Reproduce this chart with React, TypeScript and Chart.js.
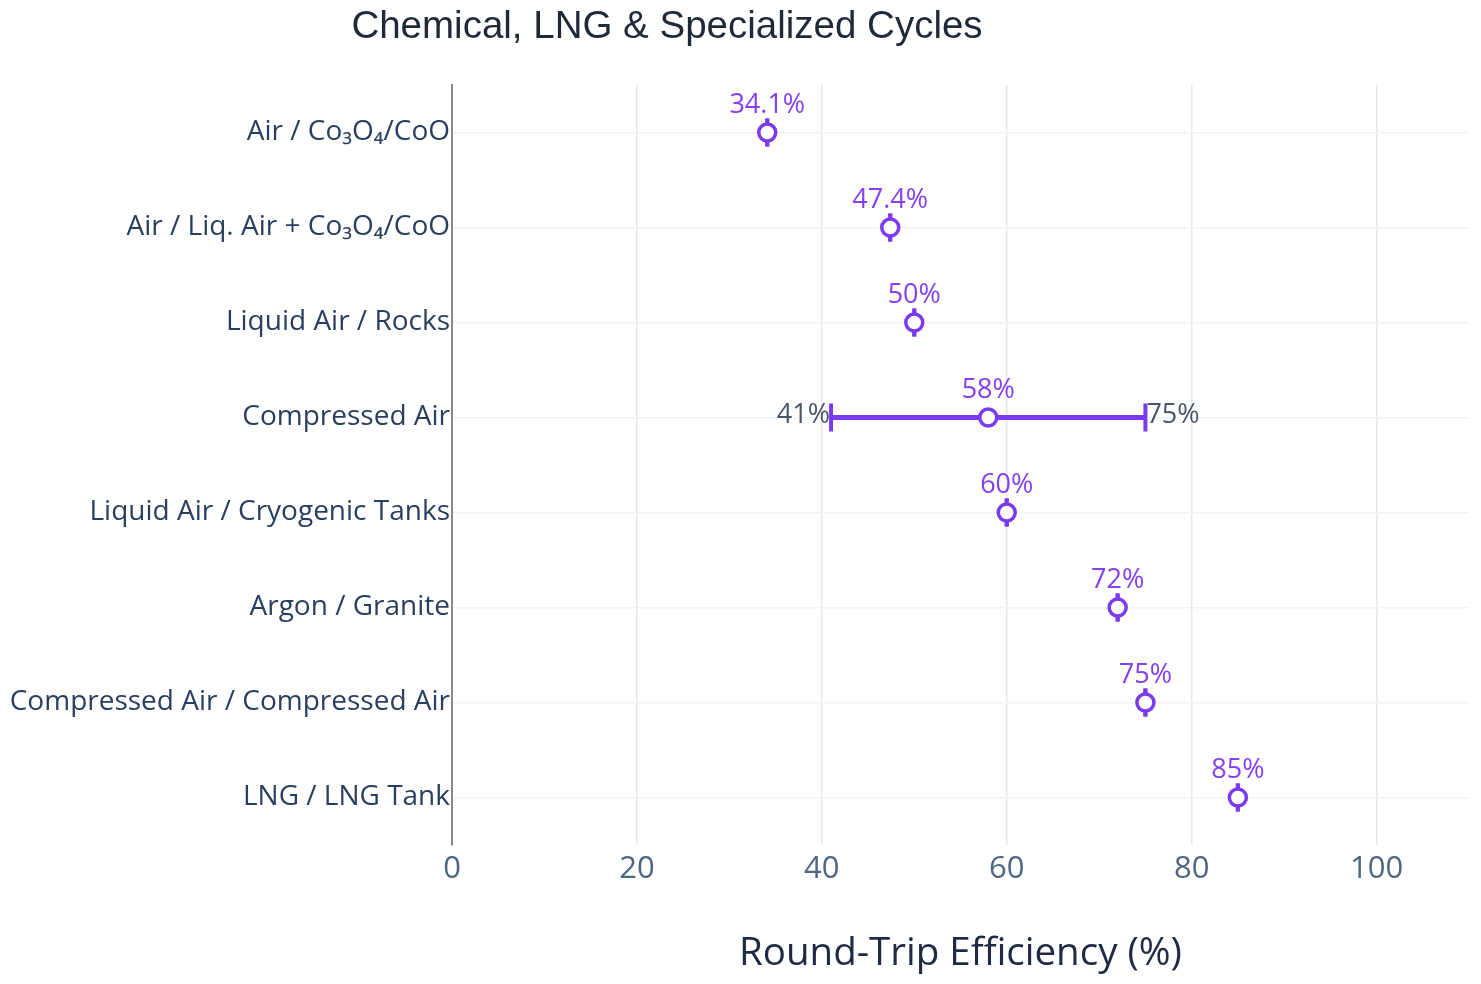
import React, { useEffect, useRef } from "react";
import { Chart, registerables } from "chart.js";

Chart.register(...registerables);

const categories = [
  "Air / Co₃O₄/CoO",
  "Air / Liq. Air + Co₃O₄/CoO",
  "Liquid Air / Rocks",
  "Compressed Air",
  "Liquid Air / Cryogenic Tanks",
  "Argon / Granite",
  "Compressed Air / Compressed Air",
  "LNG / LNG Tank",
];
const efficiency = [34.1, 47.4, 50, 58, 60, 72, 75, 85];
const rangeLow = [34.1, 47.4, 50, 41, 60, 72, 75, 85];
const rangeHigh = [34.1, 47.4, 50, 75, 60, 72, 75, 85];
const xTicks = [0, 20, 40, 60, 80, 100];

const PURPLE = "#7c3aed";
const FONT = "'Open Sans', 'Noto Sans', sans-serif";

// error bars under the markers, value labels on top
const errorBarPlugin = {
  id: "errorBars",
  beforeDatasetsDraw(chart: any) {
    const { ctx, scales } = chart;
    const { x, y } = scales;
    ctx.save();
    ctx.strokeStyle = PURPLE;
    categories.forEach((_, i) => {
      const py = y.getPixelForValue(i);
      const lo = x.getPixelForValue(rangeLow[i]);
      const hi = x.getPixelForValue(rangeHigh[i]);
      if (hi > lo) {
        ctx.lineWidth = 5;
        ctx.beginPath();
        ctx.moveTo(lo, py);
        ctx.lineTo(hi, py);
        ctx.stroke();
      }
      ctx.lineWidth = 4;
      [lo, hi].forEach((px) => {
        ctx.beginPath();
        ctx.moveTo(px, py - 14);
        ctx.lineTo(px, py + 14);
        ctx.stroke();
      });
    });
    ctx.restore();
  },
  afterDatasetsDraw(chart: any) {
    const { ctx, scales } = chart;
    const { x, y } = scales;
    ctx.save();
    ctx.font = `27px ${FONT}`;
    ctx.textBaseline = "middle";
    categories.forEach((_, i) => {
      const py = y.getPixelForValue(i);
      ctx.fillStyle = "#8540f0";
      ctx.textAlign = "center";
      ctx.fillText(`${efficiency[i]}%`, x.getPixelForValue(efficiency[i]), py - 27);
      if (rangeHigh[i] > rangeLow[i]) {
        ctx.fillStyle = "#4a5568";
        ctx.textAlign = "right";
        ctx.fillText(`${rangeLow[i]}%`, x.getPixelForValue(rangeLow[i]) - 1, py - 2);
        ctx.textAlign = "left";
        ctx.fillText(`${rangeHigh[i]}%`, x.getPixelForValue(rangeHigh[i]) + 1, py - 2);
      }
    });
    ctx.restore();
  },
};

const titlePlugin = {
  id: "pageTitle",
  afterDraw(chart: any) {
    const { ctx } = chart;
    ctx.save();
    ctx.font = `38.5px 'Liberation Sans', Arial, sans-serif`;
    ctx.fillStyle = "#1f2937";
    ctx.textAlign = "center";
    ctx.textBaseline = "middle";
    ctx.fillText("Chemical, LNG & Specialized Cycles", 667, 27);
    ctx.restore();
  },
};

const EfficiencyChart = () => {
  const chartRef = useRef<HTMLCanvasElement>(null);

  useEffect(() => {
    const ctx = chartRef.current!.getContext("2d")!;
    const myChart = new Chart(ctx, {
      type: "line",
      data: {
        labels: categories,
        datasets: [
          {
            label: "Round-Trip Efficiency",
            data: efficiency,
            showLine: false,
            pointStyle: "circle",
            pointRadius: 8.5,
            pointBorderWidth: 3.5,
            pointBackgroundColor: "#ffffff",
            pointBorderColor: PURPLE,
          },
        ],
      },
      options: {
        indexAxis: "y",
        responsive: true,
        maintainAspectRatio: false,
        animation: false,
        layout: { padding: { top: 85, right: 10, left: 0, bottom: 0 } },
        plugins: {
          legend: { display: false },
          tooltip: { enabled: false },
        },
        scales: {
          x: {
            type: "linear",
            min: 0,
            max: 110,
            afterBuildTicks: (scale: any) => {
              scale.ticks = xTicks.map((v) => ({ value: v }));
            },
            afterFit: (scale: any) => {
              scale.height = 139;
            },
            border: { display: false },
            grid: { color: "#e3e7ef", lineWidth: 1.5, drawTicks: false },
            ticks: {
              padding: 6,
              color: "#506784",
              font: { family: FONT, size: 31 },
            },
            title: {
              display: true,
              text: "Round-Trip Efficiency (%)",
              color: "#1f2a44",
              font: { family: FONT, size: 38.5 },
              padding: { top: 0, bottom: 7 },
            },
          },
          y: {
            type: "category",
            offset: true,
            afterFit: (scale: any) => {
              scale.width = 452;
            },
            border: { display: true, color: "#8a8a8a", width: 2 },
            grid: { offset: false, color: "#f1f3f7", lineWidth: 1.5, drawTicks: false },
            ticks: {
              padding: 2,
              color: "#2a3f5f",
              font: { family: FONT, size: 28 },
            },
          },
        },
      },
      plugins: [errorBarPlugin, titlePlugin],
    } as any);

    return () => {
      myChart.destroy();
    };
  }, []);

  return (
    <div style={{ position: "fixed", left: 0, top: 0, width: 1481, height: 984, background: "#fff" }}>
      <canvas ref={chartRef}></canvas>
    </div>
  );
};

export default function App() {
  return <EfficiencyChart />;
}
